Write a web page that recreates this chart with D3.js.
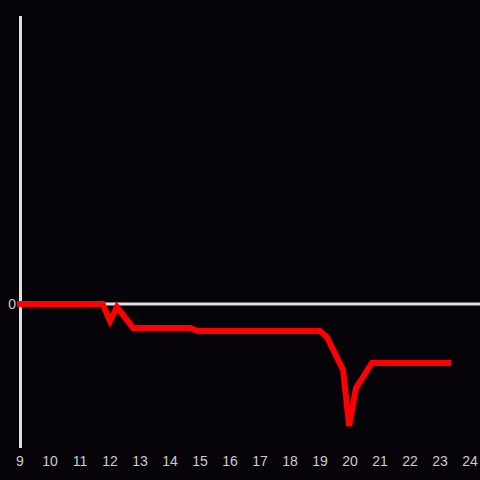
<!DOCTYPE html>
<html>
<head>
<meta charset="utf-8">
<script src="https://cdn.jsdelivr.net/npm/d3@7/dist/d3.min.js"></script>
<style>
html,body{margin:0;padding:0;background:#050307;}
svg{display:block;}
</style>
</head>
<body>
<script>
const xValues = [8.9, 11.75, 12.0, 12.23, 12.77, 14.67, 14.93, 19.0, 19.23, 19.77, 19.97, 20.2, 20.73, 23.37];
const yValues = [0, 0, -17, -3, -24, -24, -27, -27, -33, -66, -122, -84, -59, -59];
const xTicks = [9,10,11,12,13,14,15,16,17,18,19,20,21,22,23,24];
const yTicks = [0];

const W = 480, H = 480;
const svg = d3.select("body").append("svg").attr("width", W).attr("height", H);
svg.append("rect").attr("width", W).attr("height", H).attr("fill", "#050307");

const x = d3.scaleLinear().domain([9, 24]).range([20, 470]);
const y = d3.scaleLinear().domain([-144, 288]).range([448, 16]);

// y axis line
svg.append("line").attr("x1", 20.5).attr("x2", 20.5).attr("y1", 16).attr("y2", 448)
  .attr("stroke", "#e0e0e0").attr("stroke-width", 3);
// zero line
svg.append("line").attr("x1", 20).attr("x2", 480).attr("y1", y(0)).attr("y2", y(0))
  .attr("stroke", "#e0e0e0").attr("stroke-width", 3);

// x tick labels
svg.append("g").selectAll("text").data(xTicks).join("text")
  .attr("x", d => x(d)).attr("y", 466)
  .attr("text-anchor", "middle")
  .attr("font-family", "Liberation Sans, Arial, sans-serif")
  .attr("font-size", 14).attr("fill", "#cccccc")
  .text(d => d);

// y tick labels
svg.append("g").selectAll("text").data(yTicks).join("text")
  .attr("x", 16).attr("y", d => y(d)).attr("dy", "0.35em")
  .attr("text-anchor", "end")
  .attr("font-family", "Liberation Sans, Arial, sans-serif")
  .attr("font-size", 14).attr("fill", "#cccccc")
  .text(d => d);

const data = xValues.map((v, i) => ({x: v, y: yValues[i]}));
const line = d3.line().x(d => x(d.x)).y(d => y(d.y));
svg.append("path").datum(data).attr("d", line)
  .attr("fill", "none").attr("stroke", "#ff0000").attr("stroke-width", 6)
  .attr("stroke-linejoin", "miter").attr("stroke-linecap", "butt");
</script>
</body>
</html>
